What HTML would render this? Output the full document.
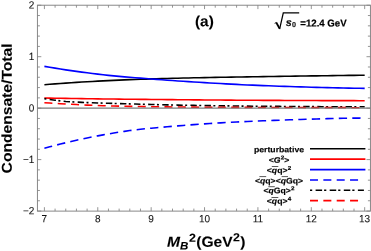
<!DOCTYPE html>
<html><head><meta charset="utf-8"><title>chart</title>
<style>
html,body{margin:0;padding:0;background:#fff;}
body{width:371px;height:251px;overflow:hidden;}
svg{display:block;position:absolute;left:0;top:0;will-change:transform;font-family:"Liberation Sans",sans-serif;}
text.b{font-weight:bold;}
text.r{font-weight:normal;}
</style></head><body>
<svg width="371" height="251" viewBox="0 0 371 251">
<path d="M44.40 84.69 L49.74 84.27 L55.08 83.87 L60.41 83.49 L65.75 83.11 L71.09 82.75 L76.43 82.41 L81.77 82.07 L87.10 81.75 L92.44 81.44 L97.78 81.15 L103.12 80.86 L108.46 80.59 L113.79 80.34 L119.13 80.09 L124.47 79.86 L129.81 79.65 L135.15 79.45 L140.48 79.26 L145.82 79.08 L151.16 78.91 L156.50 78.75 L161.84 78.60 L167.17 78.45 L172.51 78.31 L177.85 78.18 L183.19 78.05 L188.53 77.93 L193.86 77.82 L199.20 77.71 L204.54 77.60 L209.88 77.50 L215.22 77.40 L220.55 77.31 L225.89 77.21 L231.23 77.12 L236.57 77.04 L241.91 76.95 L247.24 76.86 L252.58 76.78 L257.92 76.70 L263.26 76.61 L268.60 76.53 L273.93 76.45 L279.27 76.37 L284.61 76.29 L289.95 76.21 L295.29 76.13 L300.62 76.06 L305.96 75.98 L311.30 75.91 L316.64 75.83 L321.98 75.76 L327.31 75.69 L332.65 75.62 L337.99 75.55 L343.33 75.48 L348.67 75.41 L354.00 75.35 L359.34 75.28 L364.68 75.22" fill="none" stroke="#000" stroke-width="1.6"/>
<path d="M44.40 98.07 L49.74 98.15 L55.08 98.24 L60.41 98.32 L65.75 98.41 L71.09 98.49 L76.43 98.57 L81.77 98.64 L87.10 98.72 L92.44 98.79 L97.78 98.86 L103.12 98.93 L108.46 99.00 L113.79 99.06 L119.13 99.13 L124.47 99.19 L129.81 99.24 L135.15 99.30 L140.48 99.36 L145.82 99.41 L151.16 99.47 L156.50 99.52 L161.84 99.57 L167.17 99.62 L172.51 99.66 L177.85 99.71 L183.19 99.76 L188.53 99.80 L193.86 99.85 L199.20 99.89 L204.54 99.93 L209.88 99.98 L215.22 100.02 L220.55 100.06 L225.89 100.10 L231.23 100.14 L236.57 100.18 L241.91 100.22 L247.24 100.25 L252.58 100.29 L257.92 100.32 L263.26 100.35 L268.60 100.37 L273.93 100.40 L279.27 100.42 L284.61 100.44 L289.95 100.47 L295.29 100.49 L300.62 100.51 L305.96 100.53 L311.30 100.55 L316.64 100.57 L321.98 100.59 L327.31 100.61 L332.65 100.62 L337.99 100.64 L343.33 100.65 L348.67 100.66 L354.00 100.67 L359.34 100.68 L364.68 100.69" fill="none" stroke="#f00" stroke-width="1.6"/>
<path d="M44.40 66.37 L49.74 67.28 L55.08 68.16 L60.41 69.02 L65.75 69.84 L71.09 70.63 L76.43 71.39 L81.77 72.12 L87.10 72.82 L92.44 73.49 L97.78 74.13 L103.12 74.74 L108.46 75.33 L113.79 75.88 L119.13 76.40 L124.47 76.88 L129.81 77.32 L135.15 77.74 L140.48 78.14 L145.82 78.55 L151.16 78.96 L156.50 79.37 L161.84 79.78 L167.17 80.18 L172.51 80.57 L177.85 80.95 L183.19 81.31 L188.53 81.66 L193.86 81.98 L199.20 82.31 L204.54 82.63 L209.88 82.94 L215.22 83.25 L220.55 83.55 L225.89 83.85 L231.23 84.13 L236.57 84.41 L241.91 84.68 L247.24 84.93 L252.58 85.17 L257.92 85.40 L263.26 85.62 L268.60 85.82 L273.93 86.00 L279.27 86.19 L284.61 86.37 L289.95 86.54 L295.29 86.71 L300.62 86.88 L305.96 87.04 L311.30 87.20 L316.64 87.35 L321.98 87.49 L327.31 87.63 L332.65 87.76 L337.99 87.88 L343.33 87.99 L348.67 88.09 L354.00 88.19 L359.34 88.27 L364.68 88.34" fill="none" stroke="#00f" stroke-width="1.6"/>
<path d="M44.40 148.28 L49.74 146.82 L55.08 145.42 L60.41 144.06 L65.75 142.74 L71.09 141.48 L76.43 140.26 L81.77 139.09 L87.10 137.97 L92.44 136.89 L97.78 135.86 L103.12 134.87 L108.46 133.93 L113.79 133.03 L119.13 132.17 L124.47 131.35 L129.81 130.58 L135.15 129.88 L140.48 129.26 L145.82 128.72 L151.16 128.21 L156.50 127.71 L161.84 127.23 L167.17 126.76 L172.51 126.30 L177.85 125.86 L183.19 125.43 L188.53 125.02 L193.86 124.63 L199.20 124.24 L204.54 123.87 L209.88 123.52 L215.22 123.18 L220.55 122.86 L225.89 122.55 L231.23 122.26 L236.57 121.98 L241.91 121.72 L247.24 121.47 L252.58 121.23 L257.92 121.01 L263.26 120.80 L268.60 120.59 L273.93 120.39 L279.27 120.19 L284.61 119.99 L289.95 119.80 L295.29 119.61 L300.62 119.43 L305.96 119.26 L311.30 119.10 L316.64 118.94 L321.98 118.79 L327.31 118.66 L332.65 118.53 L337.99 118.42 L343.33 118.31 L348.67 118.22 L354.00 118.14 L359.34 118.08 L364.68 118.03" fill="none" stroke="#00f" stroke-width="1.6" stroke-dasharray="8.3 5.2" stroke-dashoffset="0.3"/>
<path d="M44.40 98.63 L49.74 99.44 L55.08 100.21 L60.41 100.89 L65.75 101.44 L71.09 101.82 L76.43 102.11 L81.77 102.37 L87.10 102.59 L92.44 102.78 L97.78 102.96 L103.12 103.13 L108.46 103.28 L113.79 103.44 L119.13 103.60 L124.47 103.76 L129.81 103.91 L135.15 104.06 L140.48 104.21 L145.82 104.35 L151.16 104.49 L156.50 104.62 L161.84 104.75 L167.17 104.87 L172.51 104.99 L177.85 105.09 L183.19 105.20 L188.53 105.29 L193.86 105.38 L199.20 105.47 L204.54 105.56 L209.88 105.64 L215.22 105.72 L220.55 105.80 L225.89 105.87 L231.23 105.95 L236.57 106.01 L241.91 106.08 L247.24 106.14 L252.58 106.20 L257.92 106.25 L263.26 106.30 L268.60 106.34 L273.93 106.38 L279.27 106.41 L284.61 106.45 L289.95 106.49 L295.29 106.52 L300.62 106.56 L305.96 106.59 L311.30 106.62 L316.64 106.65 L321.98 106.68 L327.31 106.71 L332.65 106.73 L337.99 106.75 L343.33 106.77 L348.67 106.79 L354.00 106.80 L359.34 106.81 L364.68 106.81" fill="none" stroke="#000" stroke-width="1.6" stroke-dasharray="2 3.3 6.4 2.4"/>
<path d="M44.40 102.70 L49.74 103.03 L55.08 103.36 L60.41 103.68 L65.75 103.99 L71.09 104.29 L76.43 104.57 L81.77 104.84 L87.10 105.09 L92.44 105.32 L97.78 105.53 L103.12 105.72 L108.46 105.89 L113.79 106.03 L119.13 106.15 L124.47 106.26 L129.81 106.36 L135.15 106.46 L140.48 106.55 L145.82 106.63 L151.16 106.71 L156.50 106.79 L161.84 106.85 L167.17 106.92 L172.51 106.97 L177.85 107.02 L183.19 107.07 L188.53 107.11 L193.86 107.15 L199.20 107.18 L204.54 107.21 L209.88 107.24 L215.22 107.27 L220.55 107.30 L225.89 107.32 L231.23 107.34 L236.57 107.37 L241.91 107.39 L247.24 107.41 L252.58 107.43 L257.92 107.44 L263.26 107.46 L268.60 107.48 L273.93 107.49 L279.27 107.51 L284.61 107.52 L289.95 107.54 L295.29 107.55 L300.62 107.57 L305.96 107.58 L311.30 107.59 L316.64 107.61 L321.98 107.62 L327.31 107.63 L332.65 107.64 L337.99 107.65 L343.33 107.66 L348.67 107.67 L354.00 107.68 L359.34 107.68 L364.68 107.69" fill="none" stroke="#f00" stroke-width="1.6" stroke-dasharray="8 5.35"/>
<line x1="37.4" y1="108.15" x2="370.4" y2="108.15" stroke="#7a7a7a" stroke-width="1.25"/>
<rect x="37.4" y="5.2" width="333.0" height="205.9" fill="none" stroke="#7b7b7b" stroke-width="0.9"/>
<path d="M44.40 211.1 v-3.9 M44.40 5.2 v3.9 M55.08 211.1 v-2.5 M55.08 5.2 v2.5 M65.75 211.1 v-2.5 M65.75 5.2 v2.5 M76.43 211.1 v-2.5 M76.43 5.2 v2.5 M87.10 211.1 v-2.5 M87.10 5.2 v2.5 M97.78 211.1 v-3.9 M97.78 5.2 v3.9 M108.46 211.1 v-2.5 M108.46 5.2 v2.5 M119.13 211.1 v-2.5 M119.13 5.2 v2.5 M129.81 211.1 v-2.5 M129.81 5.2 v2.5 M140.48 211.1 v-2.5 M140.48 5.2 v2.5 M151.16 211.1 v-3.9 M151.16 5.2 v3.9 M161.84 211.1 v-2.5 M161.84 5.2 v2.5 M172.51 211.1 v-2.5 M172.51 5.2 v2.5 M183.19 211.1 v-2.5 M183.19 5.2 v2.5 M193.86 211.1 v-2.5 M193.86 5.2 v2.5 M204.54 211.1 v-3.9 M204.54 5.2 v3.9 M215.22 211.1 v-2.5 M215.22 5.2 v2.5 M225.89 211.1 v-2.5 M225.89 5.2 v2.5 M236.57 211.1 v-2.5 M236.57 5.2 v2.5 M247.24 211.1 v-2.5 M247.24 5.2 v2.5 M257.92 211.1 v-3.9 M257.92 5.2 v3.9 M268.60 211.1 v-2.5 M268.60 5.2 v2.5 M279.27 211.1 v-2.5 M279.27 5.2 v2.5 M289.95 211.1 v-2.5 M289.95 5.2 v2.5 M300.62 211.1 v-2.5 M300.62 5.2 v2.5 M311.30 211.1 v-3.9 M311.30 5.2 v3.9 M321.98 211.1 v-2.5 M321.98 5.2 v2.5 M332.65 211.1 v-2.5 M332.65 5.2 v2.5 M343.33 211.1 v-2.5 M343.33 5.2 v2.5 M354.00 211.1 v-2.5 M354.00 5.2 v2.5 M364.68 211.1 v-3.9 M364.68 5.2 v3.9 M37.4 211.05 h3.9 M370.4 211.05 h-3.9 M37.4 200.76 h2.5 M370.4 200.76 h-2.5 M37.4 190.47 h2.5 M370.4 190.47 h-2.5 M37.4 180.18 h2.5 M370.4 180.18 h-2.5 M37.4 169.89 h2.5 M370.4 169.89 h-2.5 M37.4 159.60 h3.9 M370.4 159.60 h-3.9 M37.4 149.31 h2.5 M370.4 149.31 h-2.5 M37.4 139.02 h2.5 M370.4 139.02 h-2.5 M37.4 128.73 h2.5 M370.4 128.73 h-2.5 M37.4 118.44 h2.5 M370.4 118.44 h-2.5 M37.4 108.15 h3.9 M370.4 108.15 h-3.9 M37.4 97.86 h2.5 M370.4 97.86 h-2.5 M37.4 87.57 h2.5 M370.4 87.57 h-2.5 M37.4 77.28 h2.5 M370.4 77.28 h-2.5 M37.4 66.99 h2.5 M370.4 66.99 h-2.5 M37.4 56.70 h3.9 M370.4 56.70 h-3.9 M37.4 46.41 h2.5 M370.4 46.41 h-2.5 M37.4 36.12 h2.5 M370.4 36.12 h-2.5 M37.4 25.83 h2.5 M370.4 25.83 h-2.5 M37.4 15.54 h2.5 M370.4 15.54 h-2.5 M37.4 5.25 h3.9 M370.4 5.25 h-3.9" fill="none" stroke="#828282" stroke-width="0.85"/>
<line x1="310" y1="148.8" x2="365.4" y2="148.8" stroke="#000" stroke-width="1.6"/>
<line x1="310" y1="159.1" x2="365.4" y2="159.1" stroke="#f00" stroke-width="1.6"/>
<line x1="310" y1="169.6" x2="365.4" y2="169.6" stroke="#00f" stroke-width="1.6"/>
<line x1="310" y1="180.0" x2="358.1" y2="180.0" stroke="#00f" stroke-width="1.6" stroke-dasharray="8 5.35"/>
<line x1="310" y1="190.3" x2="363.9" y2="190.3" stroke="#000" stroke-width="1.6" stroke-dasharray="2.2 3.4 6.5 2"/>
<line x1="310" y1="200.6" x2="358.1" y2="200.6" stroke="#f00" stroke-width="1.6" stroke-dasharray="8 5.35"/>
<path d="M274.6 23.4 L276.3 22.5" fill="none" stroke="#000" stroke-width="0.8"/><path d="M276.2 22.4 L279.6 28.6" fill="none" stroke="#000" stroke-width="1.9"/><path d="M279.6 29.2 L283.3 12.8 L299.2 12.8" fill="none" stroke="#000" stroke-width="1.25" stroke-linejoin="miter"/>
<text class="r" transform="translate(44.30 222.20) rotate(0.04) scale(0.25000 0.26000)" font-size="40" text-anchor="middle" fill="#111" stroke="#111" stroke-width="0.32">7</text>
<text class="r" transform="translate(97.68 222.20) rotate(0.04) scale(0.25000 0.26000)" font-size="40" text-anchor="middle" fill="#111" stroke="#111" stroke-width="0.32">8</text>
<text class="r" transform="translate(151.06 222.20) rotate(0.04) scale(0.25000 0.26000)" font-size="40" text-anchor="middle" fill="#111" stroke="#111" stroke-width="0.32">9</text>
<text class="r" transform="translate(204.44 222.20) rotate(0.04) scale(0.25000 0.26000)" font-size="40" text-anchor="middle" fill="#111" stroke="#111" stroke-width="0.32">10</text>
<text class="r" transform="translate(257.82 222.20) rotate(0.04) scale(0.25000 0.26000)" font-size="40" text-anchor="middle" fill="#111" stroke="#111" stroke-width="0.32">11</text>
<text class="r" transform="translate(311.20 222.20) rotate(0.04) scale(0.25000 0.26000)" font-size="40" text-anchor="middle" fill="#111" stroke="#111" stroke-width="0.32">12</text>
<text class="r" transform="translate(364.58 222.20) rotate(0.04) scale(0.25000 0.26000)" font-size="40" text-anchor="middle" fill="#111" stroke="#111" stroke-width="0.32">13</text>
<text class="r" transform="translate(34.40 214.35) rotate(0.04) scale(0.25000 0.26000)" font-size="40" text-anchor="end" fill="#111" stroke="#111" stroke-width="0.32">−2</text>
<text class="r" transform="translate(34.40 162.90) rotate(0.04) scale(0.25000 0.26000)" font-size="40" text-anchor="end" fill="#111" stroke="#111" stroke-width="0.32">−1</text>
<text class="r" transform="translate(34.40 111.45) rotate(0.04) scale(0.25000 0.26000)" font-size="40" text-anchor="end" fill="#111" stroke="#111" stroke-width="0.32">0</text>
<text class="r" transform="translate(34.40 60.00) rotate(0.04) scale(0.25000 0.26000)" font-size="40" text-anchor="end" fill="#111" stroke="#111" stroke-width="0.32">1</text>
<text class="r" transform="translate(34.40 8.55) rotate(0.04) scale(0.25000 0.26000)" font-size="40" text-anchor="end" fill="#111" stroke="#111" stroke-width="0.32">2</text>
<text class="b" transform="translate(11.70 108.45) rotate(-89.96) scale(0.27325 0.25000)" font-size="57.2" text-anchor="middle" fill="#000" stroke="#000" stroke-width="0.4">Condensate/Total</text>
<text class="b" transform="translate(167.00 246.80) rotate(0.04) scale(0.26750 0.25000)" font-size="58.4" text-anchor="start" fill="#000" stroke="#000" stroke-width="0.4"><tspan font-style="italic">M</tspan><tspan font-style="italic" font-size="43.2" dy="10.8">B</tspan><tspan font-size="46.4" dx="2" dy="-31.6">2</tspan><tspan dx="1.6" dy="20.8">(GeV</tspan><tspan font-size="46.4" dx="1.2" dy="-22.4">2</tspan><tspan dx="1.2" dy="22.4">)</tspan></text>
<text class="b" transform="translate(195.00 26.20) rotate(0.04) scale(0.25750 0.25000)" font-size="59.6" text-anchor="start" fill="#000" stroke="#000" stroke-width="0.4">(a)</text>
<text class="b" transform="translate(285.70 26.00) rotate(0.04) scale(0.25000 0.25000)" font-size="43.2" text-anchor="start" fill="#111" stroke="#111" stroke-width="0.6"><tspan font-style="italic">s</tspan><tspan font-size="28.8" dx="1.2" dy="4">0</tspan></text>
<text class="b" transform="translate(300.30 26.40) rotate(0.04) scale(0.24375 0.25000)" font-size="39.6" text-anchor="start" fill="#000" stroke="#000" stroke-width="0.8">=12.4 GeV</text>
<text class="b" transform="translate(279.00 152.30) rotate(0.04) scale(0.27125 0.25000)" font-size="32" text-anchor="middle" fill="#000" stroke="#000" stroke-width="0.64">perturbative</text>
<text class="b" transform="translate(279.00 162.70) rotate(0.04) scale(0.27125 0.25000)" font-size="32" text-anchor="middle" fill="#000" stroke="#000" stroke-width="0.64">&lt;<tspan font-style="italic">G</tspan><tspan font-size="23.2" dx="0.8" dy="-12.4">2</tspan><tspan dy="12.4">&gt;</tspan></text>
<text class="b" transform="translate(279.00 173.10) rotate(0.04) scale(0.27125 0.25000)" font-size="32" text-anchor="middle" fill="#000" stroke="#000" stroke-width="0.64">&lt;<tspan font-style="italic">q</tspan>q&gt;<tspan font-size="23.2" dx="0.8" dy="-12.4">2</tspan></text>
<text class="b" transform="translate(279.00 183.60) rotate(0.04) scale(0.27125 0.25000)" font-size="32" text-anchor="middle" fill="#000" stroke="#000" stroke-width="0.64">&lt;<tspan font-style="italic">q</tspan>q&gt;&lt;<tspan font-style="italic">q</tspan>Gq&gt;</text>
<text class="b" transform="translate(279.00 193.30) rotate(0.04) scale(0.27125 0.25000)" font-size="32" text-anchor="middle" fill="#000" stroke="#000" stroke-width="0.64">&lt;<tspan font-style="italic">q</tspan>Gq&gt;<tspan font-size="23.2" dx="0.8" dy="-12.4">2</tspan></text>
<text class="b" transform="translate(279.00 203.80) rotate(0.04) scale(0.27125 0.25000)" font-size="32" text-anchor="middle" fill="#000" stroke="#000" stroke-width="0.64">&lt;<tspan font-style="italic">q</tspan>q&gt;<tspan font-size="23.2" dx="0.8" dy="-12.4">4</tspan></text>
<path d="M271.8 166.5 H278.3 M259.4 176.6 H266.2 M281.6 176.6 H288.0 M268.3 186.7 H274.8 M271.5 197.5 H278.3" fill="none" stroke="#222" stroke-width="0.75"/>
</svg>
</body></html>
